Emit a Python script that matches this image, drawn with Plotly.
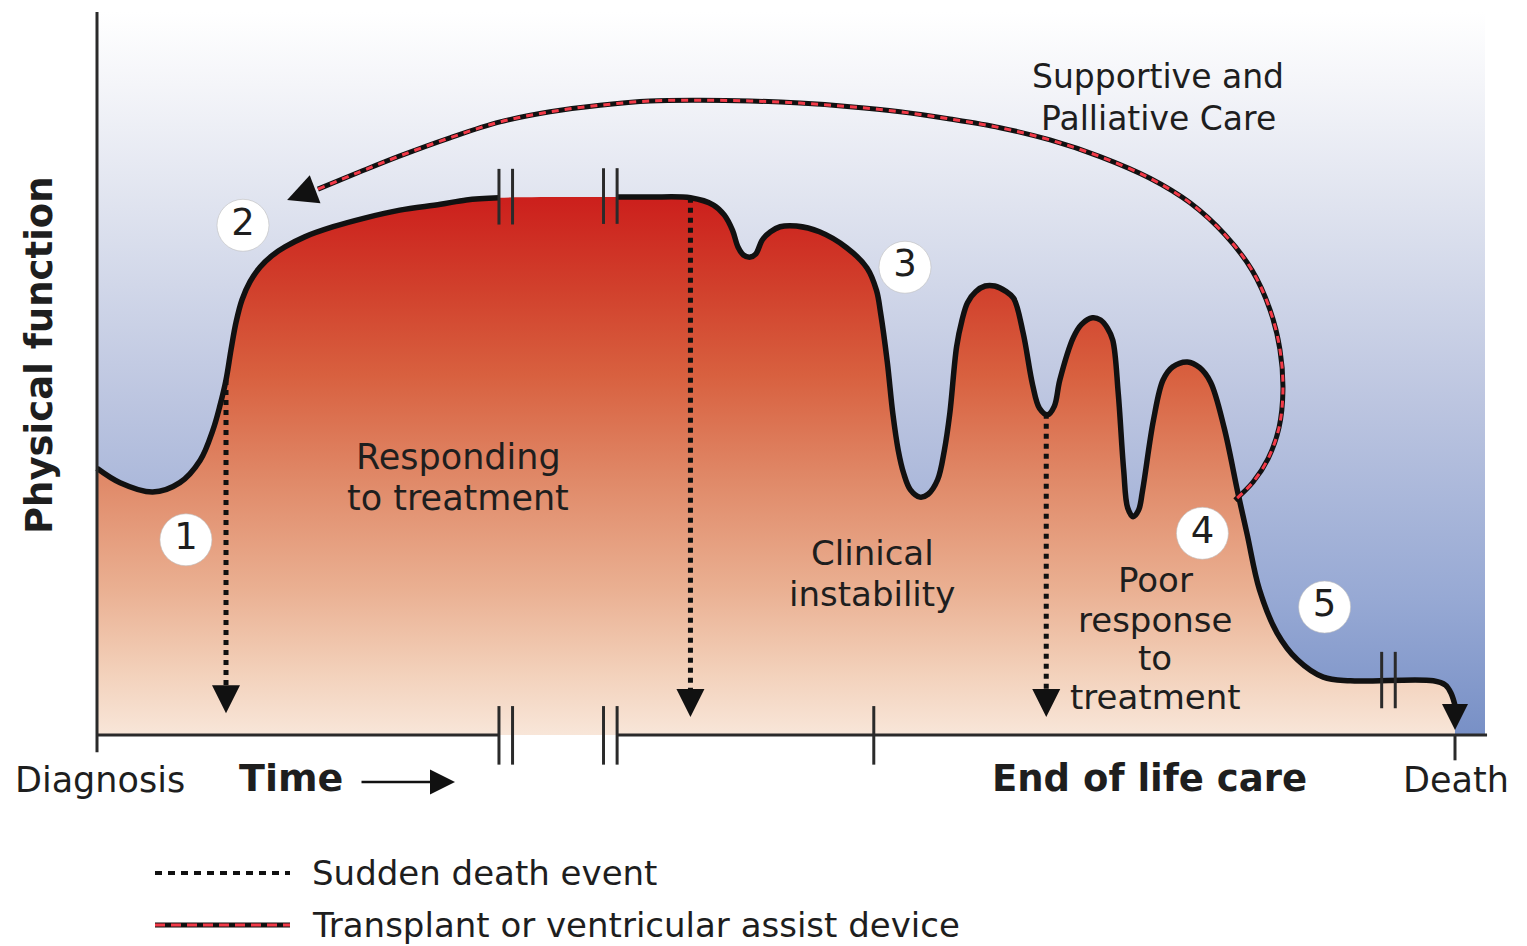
import numpy as np
import plotly.graph_objects as go

# ---------------- data (time: 0 = diagnosis, 100 = death; physical function 0..100) -------------
curve_t = [0.0, 1.7, 4.1, 6.1, 7.6, 8.54, 9.06, 9.5, 9.87, 10.24, 10.68, 11.27, 12.0, 12.89, 13.84,
           15.3, 17.4, 19.7, 22.3, 25.3, 27.2, 29.6, 38.3, 40.7, 43.7, 45.4, 46.2, 46.8, 47.2, 47.6,
           48.1, 48.5, 49.0, 49.6, 50.3, 51.5, 53.2, 55.2, 56.7, 57.4, 57.7, 58.2, 58.6, 59.0, 59.4,
           59.9, 60.6, 61.2, 61.9, 62.4, 62.8, 63.3, 63.7, 64.1, 64.7, 65.4, 66.1, 66.9, 67.5, 68.2,
           68.9, 69.4, 70.0, 70.5, 70.9, 71.9, 72.5, 73.3, 73.9, 74.4, 74.8, 75.2, 75.6, 75.9, 76.3,
           76.7, 77.0, 77.8, 78.5, 79.2, 80.3, 81.2, 82.0, 83.0, 84.0, 84.7, 85.6, 86.9, 88.4, 90.3,
           92.3, 98.4, 99.3, 99.7, 100.0]
curve_f = [36.9, 34.9, 33.6, 34.9, 38.0, 42.2, 45.6, 49.1, 53.3, 57.1, 60.2, 62.7, 64.7, 66.3, 67.5,
           68.9, 70.3, 71.5, 72.6, 73.4, 74.0, 74.3, 74.4, 74.4, 74.3, 73.3, 71.9, 69.8, 67.5, 66.4,
           66.1, 66.5, 68.5, 69.6, 70.3, 70.4, 69.6, 67.4, 64.6, 61.5, 58.4, 51.5, 44.5, 39.4, 36.2,
           33.9, 32.9, 33.3, 35.3, 39.4, 44.5, 53.7, 57.4, 59.8, 61.3, 62.1, 62.1, 61.4, 60.4, 55.6,
           48.4, 45.2, 44.3, 45.5, 49.1, 55.0, 56.8, 57.7, 57.4, 56.3, 54.6, 47.3, 36.7, 31.4, 30.2,
           31.1, 33.9, 43.6, 49.1, 50.9, 51.6, 50.8, 48.8, 42.5, 33.6, 27.7, 20.1, 14.1, 10.4, 8.0,
           7.5, 7.5, 6.9, 5.8, 4.1]

time_breaks = [29.6, 30.6, 37.3, 38.3]      # "||" gaps on the time axis and curve
late_breaks = [94.6, 95.6]                  # "||" on the final plateau
end_of_life_t = 57.2
death_t = 100.0

sudden_t = [9.5, 43.7, 69.9]                # sudden death events
sudden_tip = [3.0, 2.5, 2.5]

arc_t = [16.27, 19.37, 22.31, 25.99, 29.68, 33.36, 37.04, 40.72, 44.40, 48.09, 51.77, 55.45,
         59.13, 62.81, 66.49, 70.18, 73.86, 77.54, 80.49, 83.06, 85.05, 86.38, 87.11, 87.33,
         87.04, 86.23, 85.13, 83.80]
arc_f = [75.5, 77.9, 80.1, 82.6, 84.8, 86.2, 87.1, 87.7, 87.8, 87.7, 87.4, 86.9,
         86.2, 85.2, 84.0, 82.3, 80.0, 77.0, 73.6, 69.2, 64.3, 58.8, 53.3, 47.7,
         42.5, 38.2, 35.0, 32.5]
arc_head_t, arc_head_f = 14.0, 74.0

stage_labels = ["1", "2", "3", "4", "5"]
stage_t = [6.55, 10.75, 59.5, 81.4, 90.4]
stage_f = [27.0, 70.5, 64.7, 27.9, 17.7]

# ---------------- geometry of the page ----------------
W, H = 1527, 946
X0_PX, PX_PER_T = 97, 13.58
Y0_PX, PX_PER_F = 735, 7.23
xr = [(0 - X0_PX) / PX_PER_T, (W - X0_PX) / PX_PER_T]
yr = [(Y0_PX - H) / PX_PER_F, Y0_PX / PX_PER_F]
BG_T_MAX = (1485 - X0_PX) / PX_PER_T
F_MAX = 100

FONT = "DejaVu Sans"
TXT = "#1e1e1e"
INK = "#111111"
RED_DASH = "#f23a48"

bg_scale = [[0.0, "#7890c6"], [0.19, "#97a9d4"], [0.46, "#bcc5e0"], [0.73, "#dfe3ef"],
            [0.9, "#f4f5f9"], [1.0, "#ffffff"]]
fill_scale = [[0.0, "#f8e6d9"], [0.11, "#f3d2bc"], [0.27, "#eab092"], [0.47, "#e08a69"],
              [0.67, "#d8603f"], [0.83, "#d1402c"], [1.0, "#cc1f1c"]]

fig = go.Figure()

# background panel gradient
fig.add_trace(go.Scatter(x=[0, BG_T_MAX, BG_T_MAX, 0, 0], y=[0, 0, F_MAX, F_MAX, 0],
                         mode="lines", line=dict(width=0), fill="toself",
                         fillgradient=dict(type="vertical", colorscale=bg_scale, start=0, stop=F_MAX),
                         hoverinfo="skip", showlegend=False))

# area under curve
SPL = dict(shape="spline", smoothing=1.0)
fig.add_trace(go.Scatter(x=curve_t, y=curve_f, mode="lines", line=dict(width=0, **SPL),
                         fill="tozeroy",
                         fillgradient=dict(type="vertical", colorscale=fill_scale, start=0,
                                           stop=max(curve_f)),
                         hoverinfo="skip", showlegend=False))

# curve outline with the break gap
lt, lf = [], []
for t, f in zip(curve_t, curve_f):
    if t <= time_breaks[0]:
        lt.append(t); lf.append(f)
lt.append(None); lf.append(None)
for t, f in zip(curve_t, curve_f):
    if t >= time_breaks[-1]:
        lt.append(t); lf.append(f)
fig.add_trace(go.Scatter(x=lt, y=lf, mode="lines", line=dict(color=INK, width=5.5, **SPL),
                         connectgaps=False, hoverinfo="skip", showlegend=False))

# axes lines
fig.add_trace(go.Scatter(x=[0, 0], y=[-2.4, F_MAX], mode="lines",
                         line=dict(color="#2a2a2a", width=3), hoverinfo="skip", showlegend=False))
fig.add_trace(go.Scatter(x=[0, time_breaks[0], None, time_breaks[-1], BG_T_MAX + 0.15],
                         y=[0, 0, None, 0, 0], mode="lines",
                         line=dict(color="#2a2a2a", width=3), hoverinfo="skip", showlegend=False))

# break marks and ticks
bx, by = [], []
for t in time_breaks:
    bx += [t, t, None]; by += [4.0, -4.1, None]
    c = float(np.interp(t, curve_t, curve_f))
    bx += [t, t, None]; by += [c + 4.0, c - 3.7, None]
for t in late_breaks:
    c = float(np.interp(t, curve_t, curve_f))
    bx += [t, t, None]; by += [c + 4.0, c - 3.8, None]
bx += [end_of_life_t, end_of_life_t, None]; by += [4.0, -4.1, None]
bx += [death_t, death_t]; by += [0, -3.5]
fig.add_trace(go.Scatter(x=bx, y=by, mode="lines", line=dict(color="#2a2a2a", width=3),
                         hoverinfo="skip", showlegend=False))

# sudden death dotted arrows
sx, sy = [], []
for t, tip in zip(sudden_t, sudden_tip):
    top = float(np.interp(t, curve_t, curve_f))
    sx += [t, t, None]; sy += [top, tip + 2.5, None]
fig.add_trace(go.Scatter(x=sx, y=sy, mode="lines", line=dict(color=INK, width=5, dash="5px,5px"),
                         hoverinfo="skip", showlegend=False))
fig.add_trace(go.Scatter(x=sudden_t, y=sudden_tip, mode="markers",
                         marker=dict(symbol="arrow-down", size=28, color=INK),
                         hoverinfo="skip", showlegend=False))
# death arrow head
fig.add_trace(go.Scatter(x=[death_t], y=[0.7], mode="markers",
                         marker=dict(symbol="arrow-down", size=26, color=INK),
                         hoverinfo="skip", showlegend=False))

# transplant / VAD arc
ARC = dict(shape="spline", smoothing=1.0)
fig.add_trace(go.Scatter(x=arc_t, y=arc_f, mode="lines", line=dict(color=INK, width=5, **ARC),
                         hoverinfo="skip", showlegend=False))
fig.add_trace(go.Scatter(x=arc_t, y=arc_f, mode="lines",
                         line=dict(color=RED_DASH, width=3, dash="7px,6px", **ARC),
                         hoverinfo="skip", showlegend=False))
fig.add_trace(go.Scatter(x=[arc_head_t], y=[arc_head_f], mode="markers",
                         marker=dict(symbol="arrow-down", size=30, color=INK, angle=69),
                         hoverinfo="skip", showlegend=False))

# numbered stages
fig.add_trace(go.Scatter(x=stage_t, y=stage_f, mode="markers+text", text=stage_labels,
                         textposition="middle center",
                         textfont=dict(family=FONT, size=37, color=TXT),
                         marker=dict(symbol="circle", size=52, color="white",
                                     line=dict(color="rgba(190,190,190,0.6)", width=1)),
                         hoverinfo="skip", showlegend=False))

# legend samples
LEG_T0, LEG_T1 = (155 - X0_PX) / PX_PER_T, (290 - X0_PX) / PX_PER_T
LEG_F1, LEG_F2 = (Y0_PX - 873) / PX_PER_F, (Y0_PX - 925) / PX_PER_F
fig.add_trace(go.Scatter(x=[LEG_T0, LEG_T1], y=[LEG_F1, LEG_F1], mode="lines",
                         line=dict(color=INK, width=4, dash="7px,6px"),
                         hoverinfo="skip", showlegend=False))
fig.add_trace(go.Scatter(x=[LEG_T0, LEG_T1], y=[LEG_F2, LEG_F2], mode="lines",
                         line=dict(color=INK, width=5), hoverinfo="skip", showlegend=False))
fig.add_trace(go.Scatter(x=[LEG_T0, LEG_T1], y=[LEG_F2, LEG_F2], mode="lines",
                         line=dict(color=RED_DASH, width=3, dash="10px,6px"),
                         hoverinfo="skip", showlegend=False))

# ---------------- text ----------------
def P(px, py):
    return px / W, 1 - py / H

labels = [
    ("Supportive and", 1158, 76, 33, "center"),
    ("Palliative Care", 1158, 119, 33, "center"),
    ("Responding", 458, 457, 35, "center"),
    ("to treatment", 458, 498, 35, "center"),
    ("Clinical", 872, 553, 34, "center"),
    ("instability", 872, 594, 34, "center"),
    ("Poor", 1155, 580, 34, "center"),
    ("response", 1155, 620, 34, "center"),
    ("to", 1155, 658, 34, "center"),
    ("treatment", 1155, 697, 34, "center"),
    ("Diagnosis", 100, 780, 35, "center"),
    ("Death", 1456, 780, 35, "center"),
    ("<b>Time</b>", 291, 778, 38, "center"),
    ("<b>End of life care</b>", 1149, 778, 37, "center"),
    ("Sudden death event", 310, 873, 34, "left"),
    ("Transplant or ventricular assist device", 310, 925, 34, "left"),
]
ann = []
for txt, px, py, sz, al in labels:
    x, y = P(px, py)
    ann.append(dict(text=txt, x=x, y=y, xref="paper", yref="paper", showarrow=False,
                    xanchor=al, yanchor="middle", font=dict(family=FONT, size=sz, color=TXT)))
x, y = P(40, 355)
ann.append(dict(text="<b>Physical function</b>", x=x, y=y, xref="paper", yref="paper",
                showarrow=False, textangle=-90, xanchor="center", yanchor="middle",
                font=dict(family=FONT, size=37, color=TXT)))
# time arrow
x, y = P(455, 782)
ann.append(dict(text="", x=x, y=y, xref="paper", yref="paper", showarrow=True, ax=-95, ay=0,
                arrowhead=2, arrowwidth=2.5, arrowsize=2, arrowcolor=INK))

fig.update_layout(
    width=W, height=H, margin=dict(l=0, r=0, t=0, b=0),
    paper_bgcolor="white", plot_bgcolor="white",
    xaxis=dict(range=xr, visible=False, fixedrange=True),
    yaxis=dict(range=yr, visible=False, fixedrange=True),
    annotations=ann, showlegend=False,
)

fig.write_html("out.html", config={"displayModeBar": False},
               post_script="document.body.style.margin='0';document.body.style.padding='0';")
